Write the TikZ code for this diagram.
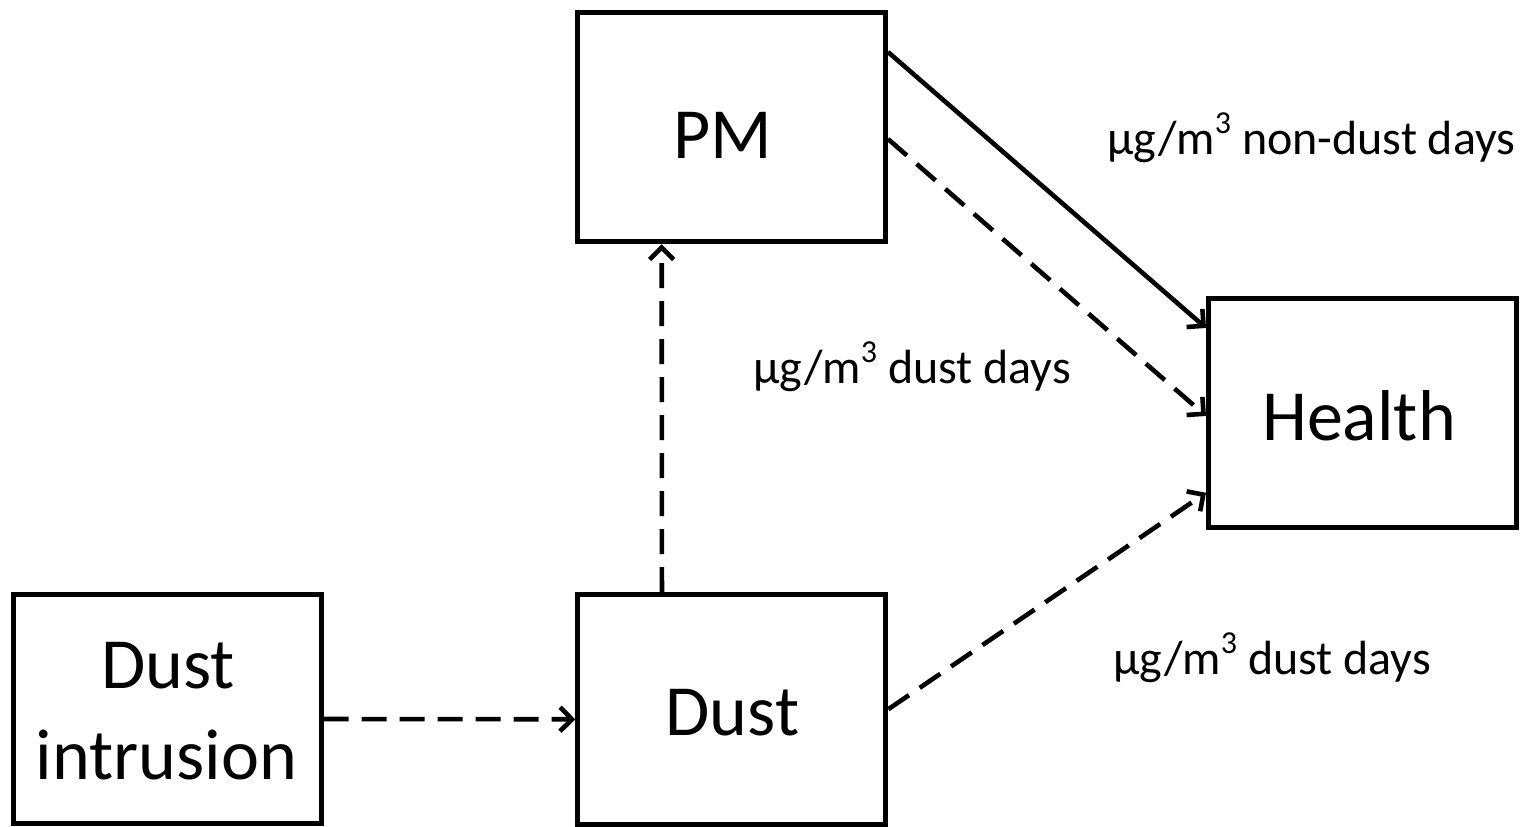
\documentclass[tikz,border=0pt]{standalone}
\usepackage{fontspec}
\setmainfont{Carlito}
\usetikzlibrary{arrows.meta}

\tikzset{
  box/.style={draw=black, line width=2.5pt, minimum width=154pt, minimum height=114.75pt,
              inner sep=0pt, fill=white},
  boxtext/.style={font=\fontsize{36}{43}\selectfont, anchor=base, inner sep=0pt},
  lbl/.style={font=\fontsize{24}{29}\selectfont, anchor=base west, inner sep=0pt},
  link/.style={line width=2.3pt, -{Straight Barb[length=6pt,width=12pt,line width=2.3pt]}},
  dashlink/.style={link, dash pattern=on 12.5pt off 6.5pt},
}
% unit with a cube superscript
\newcommand{\ugmcube}{μg/m\raisebox{0.42em}{\fontsize{16}{16}\selectfont 3}}

\begin{document}
\begin{tikzpicture}[x=0.5pt, y=-0.5pt]
  \useasboundingbox (0,0) rectangle (1526,826);

  % boxes
  \node[box] (pm)     at (731.5, 127)    {};
  \node[box] (health) at (1362.5, 412.75) {};
  \node[box] (di)     at (167, 709)      {};
  \node[box] (dust)   at (731.75, 709.25) {};

  % box captions
  \node[boxtext] (pmtext)     at (722.5, 158) {PM};
  \node[boxtext] (healthtext) at (1359, 440)  {Health};
  \node[boxtext] (dusttext)   at (732.5, 735) {Dust};
  \node[boxtext] (ditext1)    at (168, 688)   {Dust};
  \node[boxtext] (ditext2)    at (166.5, 779) {intrusion};

  % connector labels
  \node[lbl] (lnondust) at (1107, 154) {\ugmcube{} non-dust days};
  \node[lbl] (ldust1)   at (753, 383)  {\ugmcube{} dust days};
  \node[lbl] (ldust2)   at (1113, 674) {\ugmcube{} dust days};

  % connectors
  \draw[link]     ([yshift=37.5pt]pm.east) -- ([yshift=42.4pt]health.west);
  \draw[dashlink] ([yshift=-6pt]pm.east)   -- ([yshift=-1.6pt]health.west);
  \draw[dashlink] (dust.east)              -- ([yshift=-40pt]health.west);
  \draw[dashlink] ([xshift=-34.9pt]dust.north) -- ([xshift=-34.9pt]pm.south);
  \draw[dashlink] ([yshift=-5pt]di.east)   -- ([yshift=-5pt]dust.west);
\end{tikzpicture}
\end{document}
